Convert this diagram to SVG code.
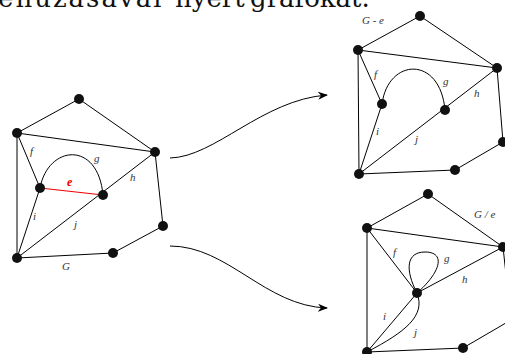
<svg xmlns="http://www.w3.org/2000/svg" width="505" height="354" viewBox="0 0 505 354">
<style>
.e{stroke:#000;stroke-width:1;fill:none}
.n{fill:#111}
.l{font-family:"Liberation Serif",serif;font-style:italic;font-size:11px;fill:#333}
.t{font-family:"DejaVu Serif",serif;font-size:26px;fill:#111}
</style>
<defs>
<marker id="ah" viewBox="0 0 10 10" refX="9" refY="5" markerWidth="10" markerHeight="10" markerUnits="userSpaceOnUse" orient="auto">
<path d="M0,1 L10,5 L0,9 L3,5 Z" fill="#000"/>
</marker>
</defs>
<text class="t" y="7"><tspan x="-66" letter-spacing="2">összehúzásával</tspan><tspan x="175">nyert</tspan><tspan x="250">gráfokat.</tspan></text>

<g id="connectors">
<path class="e" d="M170,158 C215,157 262,100 327,95" marker-end="url(#ah)"/>
<path class="e" d="M170,246 C228,246 265,306 327,308" marker-end="url(#ah)"/>
</g>

<g id="graphG">
<g class="e">
<path d="M17,133 L79,99 L155,152 L17,133 L17,258 L113,253 L163,226 L155,152 L17,258"/>
<path d="M17,133 L40,188 L17,258"/>
<path d="M40,188 C48,145 98,140 103,195"/>
</g>
<line x1="40" y1="188" x2="103" y2="195" stroke="#e00" stroke-width="1.2"/>
<g class="n">
<circle cx="79" cy="99" r="5"/><circle cx="17" cy="133" r="5"/><circle cx="155" cy="152" r="5"/>
<circle cx="40" cy="188" r="5"/><circle cx="103" cy="195" r="5"/><circle cx="163" cy="226" r="5"/>
<circle cx="17" cy="258" r="5"/><circle cx="113" cy="253" r="5"/>
</g>
<text class="l" x="30" y="155">f</text>
<text class="l" x="94" y="162">g</text>
<text x="67" y="186" font-family="Liberation Serif,serif" font-style="italic" font-weight="bold" font-size="12" fill="#e00">e</text>
<text class="l" x="130" y="181">h</text>
<text class="l" x="33" y="220">i</text>
<text class="l" x="74" y="228">j</text>
<text class="l" x="62" y="270">G</text>
</g>

<g id="graphGminusE">
<g class="e">
<path d="M358,50 L420,16 L497,68 L358,50 L359,174 L455,170 L503,142 L497,68 L359,174"/>
<path d="M358,50 L382,104 L359,174"/>
<path d="M382,104 C388,58 440,55 445,110"/>
</g>
<g class="n">
<circle cx="420" cy="16" r="5"/><circle cx="358" cy="50" r="5"/><circle cx="497" cy="68" r="5"/>
<circle cx="382" cy="104" r="5"/><circle cx="445" cy="110" r="5"/><circle cx="503" cy="142" r="5"/>
<circle cx="359" cy="174" r="5"/><circle cx="455" cy="170" r="5"/>
</g>
<text class="l" x="362" y="24">G - e</text>
<text class="l" x="374" y="78">f</text>
<text class="l" x="443" y="85">g</text>
<text class="l" x="474" y="97">h</text>
<text class="l" x="376" y="135">i</text>
<text class="l" x="415" y="143">j</text>
</g>

<g id="graphGcontractE">
<g class="e">
<path d="M367,228 L428,194 L503,247 L367,228 L367,352 L463,348 L511,320 L503,247"/>
<path d="M367,228 L417,293 L367,352"/>
<path d="M417,293 L503,247"/>
<path d="M417,293 C426,316 405,332 367,352"/>
<path d="M417,293 C405,270 406,252 425,252 C446,252 441,272 417,293"/>
</g>
<g class="n">
<circle cx="428" cy="194" r="5"/><circle cx="367" cy="228" r="5"/><circle cx="503" cy="247" r="5"/>
<circle cx="417" cy="293" r="5"/><circle cx="511" cy="320" r="5"/>
<circle cx="367" cy="352" r="5"/><circle cx="463" cy="348" r="5"/>
</g>
<text class="l" x="474" y="218">G / e</text>
<text class="l" x="393" y="256">f</text>
<text class="l" x="444" y="262">g</text>
<text class="l" x="462" y="283">h</text>
<text class="l" x="383" y="320">i</text>
<text class="l" x="414" y="336">j</text>
</g>
</svg>
